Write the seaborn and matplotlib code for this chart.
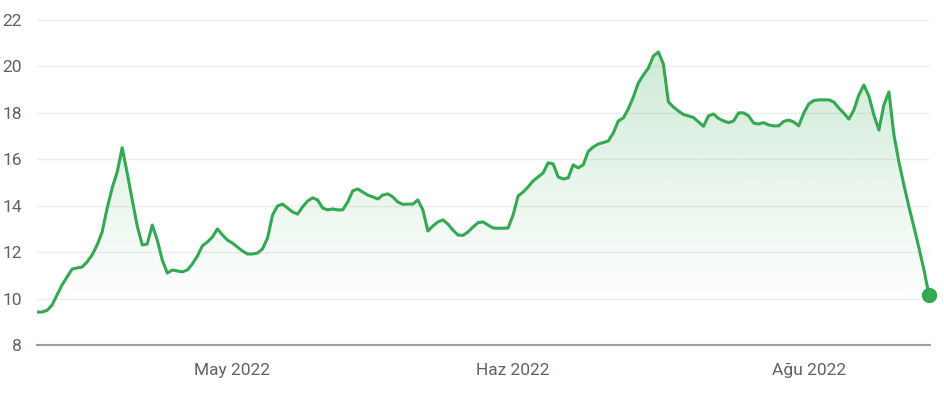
import matplotlib
matplotlib.use('Agg')

import matplotlib.pyplot as plt
import numpy as np
import pandas as pd
import seaborn as sns
from matplotlib.colors import to_rgb

# daily closing values (one value per trading day)
price = [
    9.42, 9.42, 9.49, 9.72, 10.15, 10.59, 10.93, 11.27, 11.32, 11.36,
    11.58, 11.88, 12.31, 12.87, 13.90, 14.76, 15.45, 16.50, 15.40, 14.25,
    13.13, 12.31, 12.35, 13.17, 12.52, 11.66, 11.10, 11.23, 11.19, 11.15,
    11.23, 11.49, 11.83, 12.27, 12.44, 12.65, 13.00, 12.74, 12.52, 12.39,
    12.22, 12.05, 11.92, 11.92, 11.96, 12.14, 12.61, 13.60, 13.99, 14.07,
    13.90, 13.73, 13.64, 13.95, 14.20, 14.34, 14.25, 13.90, 13.82, 13.86,
    13.82, 13.82, 14.16, 14.64, 14.72, 14.59, 14.46, 14.38, 14.29, 14.46,
    14.51, 14.38, 14.16, 14.06, 14.07, 14.07, 14.25, 13.82, 12.91, 13.13,
    13.30, 13.39, 13.21, 12.95, 12.74, 12.72, 12.87, 13.08, 13.27, 13.30,
    13.17, 13.04, 13.03, 13.03, 13.04, 13.60, 14.42, 14.59, 14.81, 15.07,
    15.24, 15.41, 15.85, 15.80, 15.24, 15.15, 15.20, 15.76, 15.63, 15.76,
    16.34, 16.53, 16.66, 16.72, 16.79, 17.13, 17.65, 17.78, 18.17, 18.68,
    19.29, 19.63, 19.93, 20.45, 20.62, 20.10, 18.47, 18.25, 18.08, 17.93,
    17.87, 17.80, 17.61, 17.42, 17.87, 17.95, 17.76, 17.65, 17.58, 17.65,
    18.00, 18.00, 17.87, 17.56, 17.52, 17.58, 17.48, 17.44, 17.44, 17.63,
    17.69, 17.61, 17.44, 17.99, 18.38, 18.53, 18.56, 18.56, 18.56, 18.47,
    18.21, 17.99, 17.73, 18.12, 18.77, 19.20, 18.73, 17.91, 17.26, 18.34,
    18.90, 17.05, 15.88, 14.89, 13.95, 13.08, 12.18, 11.23, 10.15,
]
days = np.arange(len(price))

tick_days = [39, 95, 154]
tick_labels = ['May 2022', 'Haz 2022', 'Ağu 2022']
y_ticks = [8, 10, 12, 14, 16, 18, 20, 22]

df = pd.DataFrame({'day': days, 'price': price})

green = '#34a853'
text_col = '#5f6368'

sns.set_style('white')
plt.rcParams['font.family'] = ['Roboto', 'DejaVu Sans']

fig = plt.figure(figsize=(9.45, 4.0), dpi=100, facecolor='white')
ax = fig.add_axes([37 / 945, 1 - 345 / 400, 893 / 945, 325 / 400])

x_max = 178.2
y_min, y_max = 8, 22

# gridlines
for v in y_ticks[1:]:
    ax.axhline(v, color='#eeeeee', lw=1, zorder=0)

# gradient fill under the line
fill = ax.fill_between(df['day'], df['price'], y_min, color='none', lw=0)
clip = fill.get_paths()[0]
levels = np.linspace(y_min, y_max, 300)
rgba = np.zeros((300, 1, 4))
rgba[..., :3] = to_rgb(green)
rgba[:, 0, 3] = np.clip(0.022 * (levels - 9.8), 0, 0.26)
im = ax.imshow(rgba, extent=[0, x_max, y_min, y_max], origin='lower',
               aspect='auto', zorder=1, interpolation='bilinear')
im.set_clip_path(clip, transform=ax.transData)

sns.lineplot(data=df, x='day', y='price', color=green, lw=2.2, ax=ax, zorder=3,
             solid_joinstyle='round', solid_capstyle='round')
ax.plot(df['day'].iloc[-1], df['price'].iloc[-1], 'o', color=green, ms=10,
        clip_on=False, zorder=4)

ax.set_xlim(0, x_max)
ax.set_ylim(y_min, y_max)
ax.set_xlabel('')
ax.set_ylabel('')

ax.set_xticks(tick_days)
ax.set_xticklabels(tick_labels)
ax.set_yticks(y_ticks)
ax.tick_params(axis='x', length=5, width=1.5, color='#555555', pad=8,
               labelsize=12.5, labelcolor=text_col)
ax.tick_params(axis='y', length=0, pad=11, labelsize=12.5, labelcolor=text_col)

for side in ['top', 'right', 'left']:
    ax.spines[side].set_visible(False)
ax.spines['bottom'].set_color('#9e9e9e')
ax.spines['bottom'].set_linewidth(1.5)

fig.savefig('out.png', dpi=100, facecolor='white')
